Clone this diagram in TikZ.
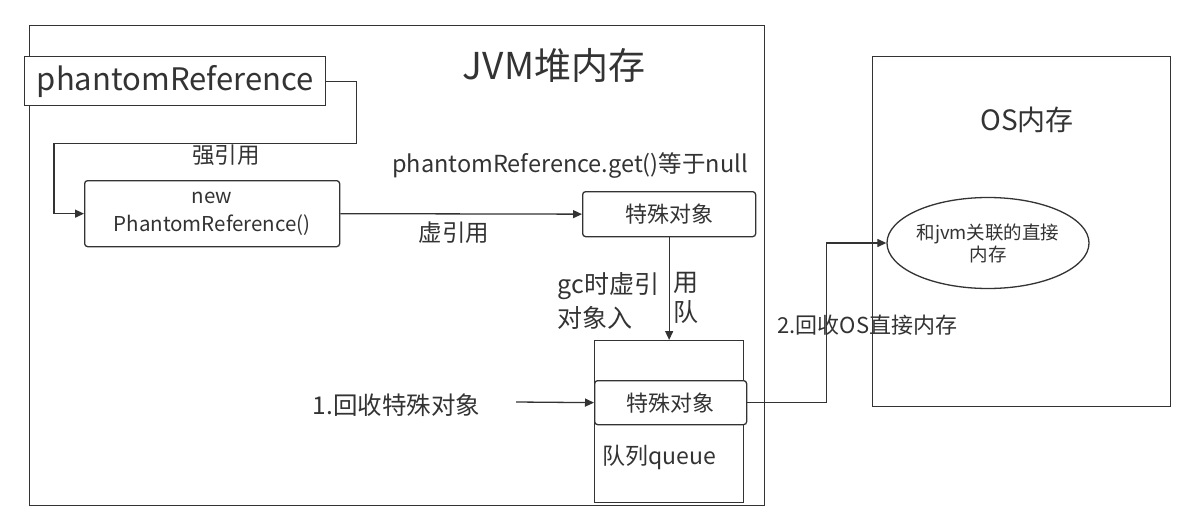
\documentclass[tikz,border=0pt]{standalone}
\usepackage{fontspec}
\setmainfont{Noto Sans CJK SC}
\usetikzlibrary{arrows.meta,shapes.geometric}
\definecolor{ln}{HTML}{333333}
\definecolor{tx}{HTML}{333333}
\newcommand{\fs}[1]{\fontsize{#1}{#1}\selectfont}
\begin{document}
\begin{tikzpicture}[x=1pt,y=-1pt,line width=1.3pt,
  box/.style={draw=ln,inner sep=0,text=tx},
  rbox/.style={box,rounded corners=3pt},
  lbl/.style={text=tx,inner sep=0},
  arr/.style={draw=ln,-{Triangle[length=9pt,width=8pt]}}]
\useasboundingbox[fill=white] (0,0) rectangle (1194,530);
\node[box,minimum width=735,minimum height=480,anchor=north west] (jvm) at (29,25) {};
\node[box,minimum width=298,minimum height=350,anchor=north west] (os) at (872,56) {};
\node[box,fill=white,minimum width=301,minimum height=49,anchor=north west,font=\fs{31}] (pr) at (24,56) {phantomReference};
\node[rbox,minimum width=255,minimum height=66,anchor=north west,align=center,font=\fs{20.5}] (nb) at (84,180) {new\\[7pt]PhantomReference()};
\node[rbox,minimum width=173,minimum height=45,anchor=north west,font=\fs{22}] (s1) at (582,191) {特殊对象};
\node[box,minimum width=149,minimum height=162,anchor=north west] (q) at (594,340) {};
\node[rbox,fill=white,minimum width=152,minimum height=44,anchor=north west,font=\fs{22}] (s2) at (594,380) {特殊对象};
\node[lbl,anchor=west,font=\fs{23}] (ql) at (602,457) {队列queue};
\node[box,ellipse,minimum width=166,minimum height=91,align=center,font=\fs{18.5}] (el) at (988,243) {和jvm关联的直接\\[1pt]内存};
\node[lbl,font=\fs{37}] (t1) at (554,65) {JVM堆内存};
\node[lbl,font=\fs{28}] (t2) at (1027,120) {OS内存};
\node[lbl,font=\fs{22.5}] (l1) at (226,155) {强引用};
\node[lbl,font=\fs{23.5}] (l2) at (454,233) {虚引用};
\node[lbl,font=\fs{23.5}] (l3) at (570,166) {phantomReference.get()等于null};
\node[lbl,anchor=north west,align=left,font=\fs{25}] (l4) at (557,272) {gc时虚引\\[5pt]对象入};
\node[lbl,anchor=north west,align=left,font=\fs{25}] (l5) at (673,272) {用\\[5pt]队};
\node[lbl,anchor=west,font=\fs{24.5}] (l6) at (312,405) {1.回收特殊对象};
\node[lbl,anchor=west,font=\fs{22}] (l7) at (777,325) {2.回收OS直接内存};
\coordinate (c1) at (516,402);
\draw[arr] (pr.east) -- ++(30,0) -- ++(0,62) -| ([xshift=-30]nb.west) -- (nb.west);
\draw[arr] (nb.east) -- (s1.west);
\draw[arr] (s1.south) -- (q.north);
\draw[arr] (c1) -- (s2.west);
\draw[arr] (s2.east) -- ++(79,0) |- (el.west);
\end{tikzpicture}
\end{document}
